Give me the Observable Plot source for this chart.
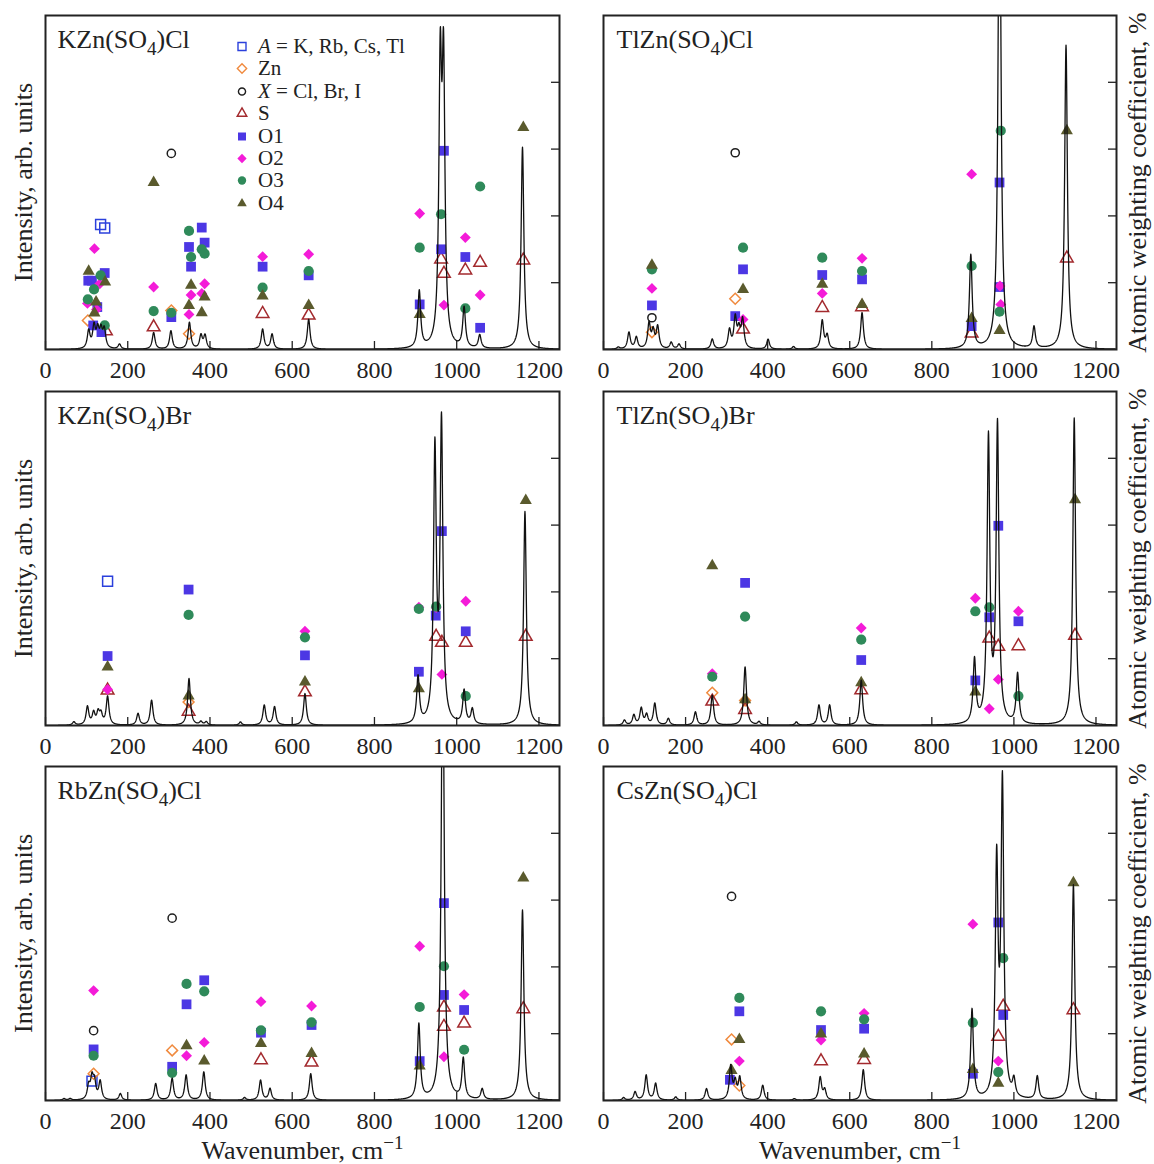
<!DOCTYPE html>
<html><head><meta charset="utf-8">
<script src="https://cdn.jsdelivr.net/npm/d3@7"></script>
<script src="https://cdn.jsdelivr.net/npm/@observablehq/plot@0.6"></script>
<style>
body{margin:0;background:#fff;}
#wrap{position:relative;width:1154px;height:1164px;overflow:hidden;font-family:"Liberation Serif","Times New Roman",serif;color:#222;}
#wrap svg.panel{position:absolute;overflow:visible;}
.leg{position:absolute;display:flex;align-items:center;font-size:21px;line-height:22px;white-space:nowrap;}
.leg span{margin-left:9px;}
</style></head><body><div id="wrap"></div>
<script>
// ---------- axis / text ----------
const xTicks = [0, 200, 400, 600, 800, 1000, 1200];
const yTicks = [20, 40, 60, 80];
const xLabel = "Wavenumber, cm−1";
const yLabelLeft = "Intensity, arb. units";
const yLabelRight = "Atomic weighting coefficient, %";
const speciesKeys = ["A", "Zn", "X", "S", "O1", "O2", "O3", "O4"];
const speciesLabels = ["<i>A</i> = K, Rb, Cs, Tl", "Zn", "<i>X</i> = Cl, Br, I", "S", "O1", "O2", "O3", "O4"];
const titles = ["KZn(SO4)Cl", "TlZn(SO4)Cl", "KZn(SO4)Br", "TlZn(SO4)Br", "RbZn(SO4)Cl", "CsZn(SO4)Cl"];

// ---------- spectra: [wavenumber, intensity] ----------
const kzncl_peaks = [[105,5.3],[118,6.5],[127,5.2],[135,5],[143,5.5],[180,1.5],[263,5],[305,5.5],[350,8],[378,4],[388,4],[528,6],[551,4.5],[640,9],[909,17],[960,80],[968,80],[1018,12],[1056,4],[1160,60.5]];
const tlzncl_peaks = [[36,0.6],[62,5],[80,3.5],[111,7.5],[121,5],[132,6.5],[165,2],[184,1.5],[265,3],[307,5.5],[321,9],[330,5],[339,8.5],[401,3],[463,0.8],[533,8.5],[545,4],[630,11],[895,28],[965,160],[1049,6.5],[1127,91]];
const kznbr_peaks = [[69,1],[102,5.5],[117,3.5],[128,3.5],[135,3],[151,8.5],[225,3.5],[258,7.5],[349,14],[378,1],[391,1],[474,1],[532,6],[557,5.5],[631,9.5],[906,14],[947,81],[963,89],[1018,10],[1038,4.5],[1166,64]];
const tlznbr_peaks = [[51,1.5],[74,3],[92,5],[105,3],[125,6.5],[158,2],[224,4],[265,9],[345,17.5],[379,1],[470,1],[525,6],[551,6],[628,13.5],[904,19],[938,85],[960,89],[1009,15],[1147,92]];
const rbzncl_peaks = [[45,0.5],[60,0.5],[105,4],[113,6],[119,5],[133,5.5],[182,2],[268,5],[308,6.5],[342,7.5],[385,8.5],[484,0.8],[523,6],[546,3.5],[645,8],[908,22.5],[966,146],[1016,12],[1062,3.2],[1160,57]];
const cszncl_peaks = [[49,0.8],[77,2.5],[104,7.5],[127,5],[176,1],[251,3.5],[310,10],[321,5],[332,6.5],[388,4.5],[465,0.5],[528,6.8],[539,3],[633,9.2],[898,27],[958,69.5],[972,93.3],[1000,5],[1057,7],[1145,64.5]];

// ---------- atomic weighting coefficients: [atom, wavenumber, %] ----------
const kzncl_atoms = [
 ["A",134,37.4],["A",144,36.4],["O2",119,30.2],["O4",105,23.4],["O1",104,20.6],["O1",113,20.6],["O3",134,22.2],["O1",144,22.9],["O4",145,20.2],["O2",132,19.7],["O3",118,18],["O3",103,15],["O2",102,13.8],["O4",123,14.2],["O1",126,12.7],["O2",124,12],["O4",119,10.9],["Zn",103,8.7],["O1",116,7.2],["O3",144,7.2],["S",147,5.5],["O1",136,5.2],
 ["O4",263,50],["O2",263,18.7],["O3",263,11.5],["S",263,6.7],
 ["X",306,58.7],["Zn",306,11.7],["O3",306,11],["O1",306,9.7],
 ["O3",349,35.5],["O1",349,30.7],["O3",354,27.7],["O1",354,24.8],["O4",354,19.2],["O2",354,16.3],["O4",349,13.2],["O2",349,10.5],["Zn",349,4.7],
 ["O1",380,36.5],["O1",387,32],["O3",380,30],["O3",387,28.7],["O2",387,19.7],["O2",380,16.8],["O4",387,15.7],["O4",380,11],
 ["O2",528,27.8],["O1",528,24.8],["O3",528,18.5],["O4",528,16],["S",528,10.7],
 ["O2",640,28.5],["O3",640,23.5],["O1",640,22.2],["O4",640,13.2],["S",640,10.2],
 ["O2",910,40.7],["O3",910,30.5],["O1",910,13.5],["O4",910,10.5],
 ["O3",962,40.5],["O1",962,30],["S",962,27],
 ["O1",969,59.5],["S",969,22.7],["O2",969,13.3],
 ["O2",1021,33.5],["O1",1021,27.7],["S",1021,23.7],["O3",1021,12.3],
 ["O3",1057,48.8],["S",1057,26],["O2",1057,16.3],["O1",1057,6.5],
 ["O4",1162,66.5],["S",1162,26.7]
];
const tlzncl_atoms = [
 ["O4",118,25.2],["O3",118,24],["O2",118,18.3],["O1",118,13.2],["X",118,9.5],["Zn",118,5.2],
 ["X",321,58.9],["Zn",321,15.2],["O1",321,10],
 ["O3",340,30.5],["O1",340,24],["O4",340,18],["O2",340,9],["S",340,6],
 ["O3",533,27.5],["O1",533,22.3],["O4",533,19.5],["O2",533,16.8],["S",533,12.5],
 ["O2",630,27.3],["O3",630,23.5],["O1",630,21],["O4",630,13.5],["S",630,12.7],
 ["O2",897,52.5],["O3",897,25],["O4",897,9.3],["O1",897,7],["S",897,4.8],
 ["O3",968,65.5],["O1",965,50],["O2",966,19],["O1",965,18.7],["O2",968,13.5],["O3",965,11.3],["O4",965,5.7],
 ["O4",1129,65.5],["S",1129,27.3]
];
const kznbr_atoms = [
 ["A",151,43.2],["O1",151,20.8],["O4",151,17.5],["O2",151,10.8],["S",151,10.5],
 ["O1",348,40.7],["O3",348,33.1],["O4",348,8.8],["Zn",348,7],["S",348,4.2],
 ["O2",631,28.2],["O3",631,26.4],["O1",631,21],["O4",631,13],["S",631,10],
 ["O2",908,35.4],["O3",908,34.9],["O1",908,16.1],["O4",908,11],
 ["O2",950,35.3],["O3",950,35.6],["O1",949,32.9],["S",950,26.6],
 ["O1",964,58.2],["S",964,24.8],["O2",964,15.3],
 ["O2",1022,37.2],["O1",1022,28.2],["S",1022,24.8],["O3",1022,8.8],
 ["O4",1168,67.4],["S",1168,26.6]
];
const tlznbr_atoms = [
 ["O4",265,47.8],["O2",265,15.5],["O3",265,14.6],["Zn",265,9.8],["S",265,7.2],
 ["O1",345,42.7],["O3",345,32.6],["Zn",345,7.5],["O4",345,7.7],["S",345,4.7],
 ["O2",628,29.2],["O3",628,25.7],["O1",628,19.6],["O4",628,12.8],["S",628,10.6],
 ["O2",906,38.1],["O3",906,34.2],["O1",906,13.5],["O4",906,10],
 ["O3",940,35.4],["O1",940,32.4],["S",940,26.1],["O2",940,5],
 ["O1",962,59.8],["S",962,23.6],["O2",962,13.8],
 ["O2",1011,34.2],["O1",1011,31.2],["S",1011,23.8],["O3",1011,8.8],
 ["O4",1149,67.6],["S",1149,26.9]
];
const rbzncl_atoms = [
 ["O2",117,32.9],["X",117,20.9],["O1",117,15.3],["O3",117,13.4],["Zn",117,8],["A",113,5.8],
 ["X",308,54.6],["Zn",308,15],["O1",308,10.1],["O3",308,8.3],
 ["O3",343,34.9],["O1",343,28.8],["O4",343,16.4],["O2",343,13.4],
 ["O1",386,36],["O3",386,32.7],["O2",386,17.4],["O4",386,11.8],
 ["O2",524,29.6],["O1",524,20.3],["O3",524,21],["O4",524,17.1],["S",524,12.1],
 ["O2",647,28.3],["O1",647,22.6],["O3",647,23.4],["O4",647,14.1],["S",647,11.4],
 ["O2",910,46.2],["O3",910,28],["O1",910,11.8],["O4",910,10.3],
 ["O1",969,59.1],["O3",969,40.2],["O1",969,31.6],["S",969,27.9],["S",969,22.1],["O2",969,13.1],
 ["O2",1018,31.7],["O1",1018,27.1],["S",1018,23.1],["O3",1018,15.2],
 ["O4",1162,66.6],["S",1162,27.4]
];
const cszncl_atoms = [
 ["X",312,61.1],["Zn",312,18.3],["O4",312,9],["O1",308,6.2],
 ["O3",331,30.7],["O1",331,26.7],["O4",331,18.3],["O2",331,11.8],["Zn",331,4.5],
 ["O3",530,26.7],["O1",530,21.1],["O4",530,19.9],["O2",530,18.1],["S",530,11.8],
 ["O2",635,26.1],["O3",635,24.3],["O1",635,21.5],["O4",635,13.9],["S",635,12.2],
 ["O2",900,52.8],["O3",900,23.3],["O4",900,9.3],["O1",900,8],
 ["O1",962,53.3],["S",962,19.1],["O2",962,11.8],["O3",962,8.5],["O4",962,5.2],
 ["O3",974,42.6],["S",974,28.1],["O1",974,25.6],
 ["O4",1145,65.2],["S",1145,27.1]
];

// ---------- styles ----------
const style = {
  A:  {symbol:"square",   color:"#2b40dc", filled:false, r:5.6, legSize:64},
  Zn: {symbol:"diamond2", color:"#f08a3e", filled:false, r:4.9, legSize:55},
  X:  {symbol:"circle",   color:"#1e1e1e", filled:false, r:4.1, legSize:40},
  S:  {symbol:"triangle", color:"#a32a2e", filled:false, r:4.7, legSize:40},
  O1: {symbol:"square",   color:"#4c37e4", filled:true,  r:5.5, legSize:64},
  O2: {symbol:"diamond2", color:"#f41bd8", filled:true,  r:4.9, legSize:55},
  O3: {symbol:"circle",   color:"#2f8a5a", filled:true,  r:5.1, legSize:55},
  O4: {symbol:"triangle", color:"#5a5a2d", filled:true,  r:4.5, legSize:40}
};
const d3sym = {square:d3.symbolSquare, diamond2:d3.symbolDiamond2, circle:d3.symbolCircle, triangle:d3.symbolTriangle};
const HWHM = 4;
const grid = d3.range(0, 1250.25, 0.5);
function spectrum(peaks){
  return grid.map(x => ({x, y: d3.sum(peaks, ([c,h]) => h / (1 + ((x - c) / HWHM) ** 2))}));
}

const panels = [
  {title:titles[0], peaks:kzncl_peaks, atoms:kzncl_atoms, col:0, row:0},
  {title:titles[1], peaks:tlzncl_peaks, atoms:tlzncl_atoms, col:1, row:0},
  {title:titles[2], peaks:kznbr_peaks, atoms:kznbr_atoms, col:0, row:1},
  {title:titles[3], peaks:tlznbr_peaks, atoms:tlznbr_atoms, col:1, row:1},
  {title:titles[4], peaks:rbzncl_peaks, atoms:rbzncl_atoms, col:0, row:2},
  {title:titles[5], peaks:cszncl_peaks, atoms:cszncl_atoms, col:1, row:2}
];

const wrap = document.getElementById("wrap");
const FONT = "Liberation Serif, Times New Roman, serif";
const svgTops = [0, 376, 751];
const frameH = 334;

for (const p of panels) {
  const left = p.col === 0;
  const width = left ? 580 : 574;
  const marginLeft = left ? 45 : 23;
  const marginRight = left ? 21 : 38;
  const marginBottom = p.row === 2 ? 64 : 27;
  const height = 15 + frameH + marginBottom;
  const marks = [
    Plot.axisX({ticks: xTicks, tickSize: 8, insetBottom: 8, tickFormat: () => "", label: null, stroke: "#222", strokeWidth: 1.3}),
    Plot.axisX({ticks: xTicks, tickSize: 0, tickPadding: 11, tickFormat: d => String(d), label: null, fontSize: 24, fill: "#222"}),
    Plot.axisY({anchor: "right", ticks: yTicks, tickSize: 9, insetRight: 9, tickFormat: () => "", label: null, stroke: "#222", strokeWidth: 1.3}),
    ...speciesKeys.map(k => {
      const s = style[k];
      return Plot.dot(p.atoms.filter(d => d[0] === k), {
        x: d => d[1], y: d => d[2], symbol: s.symbol, r: s.r,
        fill: s.filled ? s.color : "none", stroke: s.filled ? "none" : s.color, strokeWidth: 1.5
      });
    }),
    Plot.line(spectrum(p.peaks), {x: "x", y: "y", stroke: "#111", strokeWidth: 1.3, clip: true}),
    Plot.frame({stroke: "#222", strokeWidth: 2}),
    Plot.text([p.title], {frameAnchor: "top-left", dx: left ? 12 : 13, dy: 14, textAnchor: "start", lineAnchor: "top", fontSize: 26, fill: "#222"}),
    left
      ? Plot.text([yLabelLeft], {frameAnchor: "left", rotate: -90, dx: -22, textAnchor: "middle", lineAnchor: "middle", fontSize: 26, fill: "#222"})
      : Plot.text([yLabelRight], {frameAnchor: "right", rotate: -90, dx: 21, textAnchor: "middle", lineAnchor: "middle", fontSize: 26, fill: "#222"})
  ];
  if (p.row === 2) marks.push(Plot.text([xLabel], {frameAnchor: "bottom", dy: 50, textAnchor: "middle", lineAnchor: "middle", fontSize: 26, fill: "#222"}));
  const svg = Plot.plot({
    width, height, marginTop: 15, marginLeft, marginRight, marginBottom,
    x: {domain: [0, 1250], axis: null},
    y: {domain: [0, 100], axis: null},
    style: {fontFamily: FONT, background: "transparent", overflow: "visible", color: "#222"},
    marks
  });
  svg.classList.add("panel");
  svg.style.left = (left ? 0 : 580) + "px";
  svg.style.top = svgTops[p.row] + "px";
  // subscript / superscript
  svg.querySelectorAll("text").forEach(t => {
    const txt = t.textContent;
    if (txt === p.title) {
      const i = txt.indexOf("4");
      t.textContent = "";
      const a = document.createElementNS("http://www.w3.org/2000/svg", "tspan"); a.textContent = txt.slice(0, i);
      const b = document.createElementNS("http://www.w3.org/2000/svg", "tspan"); b.textContent = "4"; b.setAttribute("dy", "7"); b.setAttribute("font-size", "19");
      const c = document.createElementNS("http://www.w3.org/2000/svg", "tspan"); c.textContent = txt.slice(i + 1); c.setAttribute("dy", "-7");
      t.append(a, b, c);
    } else if (txt === xLabel) {
      t.textContent = "";
      const a = document.createElementNS("http://www.w3.org/2000/svg", "tspan"); a.textContent = "Wavenumber, cm";
      const b = document.createElementNS("http://www.w3.org/2000/svg", "tspan"); b.textContent = "−1"; b.setAttribute("dy", "-10"); b.setAttribute("font-size", "19");
      t.append(a, b);
    }
  });
  wrap.appendChild(svg);
}

// legend (top-left panel)
speciesKeys.forEach((k, i) => {
  const s = style[k];
  const row = document.createElement("div");
  row.className = "leg";
  row.style.left = "235px";
  row.style.top = (35 + i * 22.4) + "px";
  const ns = "http://www.w3.org/2000/svg";
  const sv = document.createElementNS(ns, "svg");
  sv.setAttribute("width", 14); sv.setAttribute("height", 14);
  const path = document.createElementNS(ns, "path");
  path.setAttribute("d", d3.symbol(d3sym[s.symbol], s.legSize)());
  path.setAttribute("transform", "translate(7,7.5)");
  path.setAttribute("fill", s.filled ? s.color : "none");
  path.setAttribute("stroke", s.filled ? "none" : s.color);
  path.setAttribute("stroke-width", 1.4);
  sv.appendChild(path);
  const sp = document.createElement("span");
  sp.innerHTML = speciesLabels[i];
  row.append(sv, sp);
  wrap.appendChild(row);
});
</script></body></html>
